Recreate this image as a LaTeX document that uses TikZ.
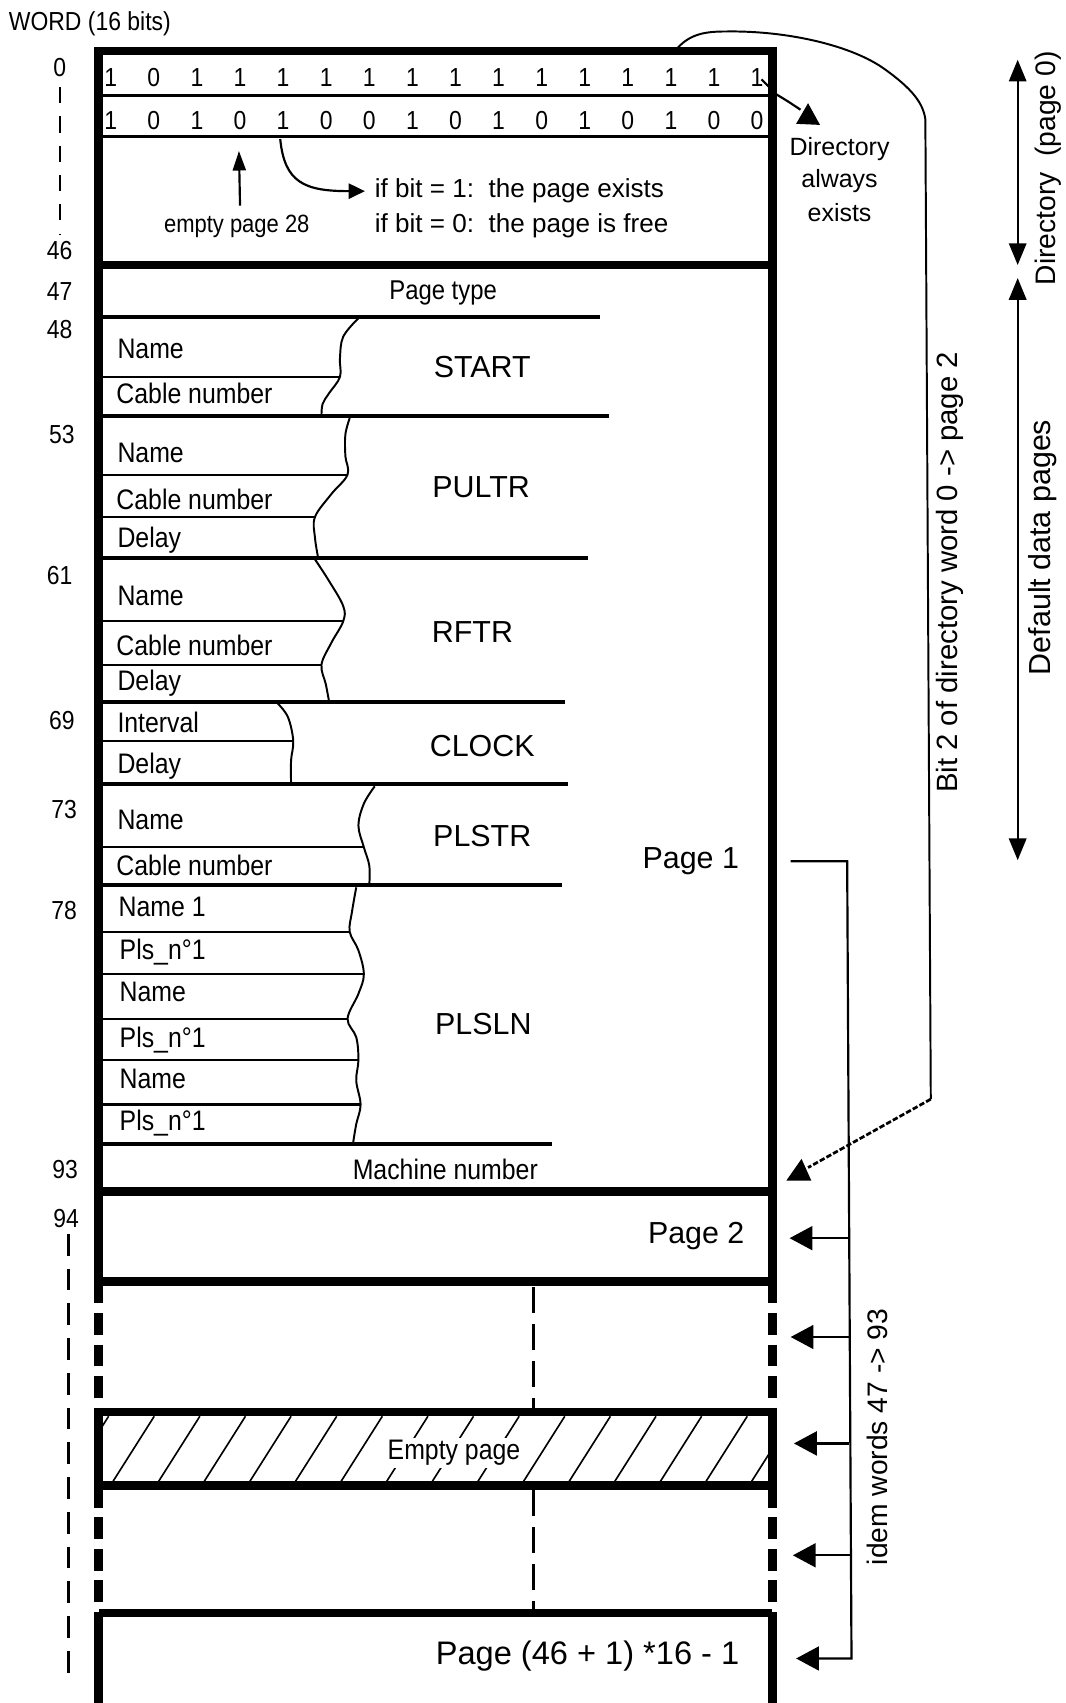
\documentclass[tikz,border=0pt]{standalone}
\usepackage{fontspec}
\setmainfont{Liberation Sans}
\newfontfamily\narrowf[FakeStretch=0.88]{Liberation Sans}
\usetikzlibrary{arrows.meta}
\begin{document}
\begin{tikzpicture}[x=1pt,y=-1pt,
  lab/.style={font=\narrowf\fontsize{26}{30}\selectfont, inner sep=0pt, anchor=west},
  num/.style={font=\narrowf\fontsize{24}{28}\selectfont, inner sep=0pt},
  bitt/.style={font=\narrowf\fontsize{24}{28}\selectfont, inner sep=0pt},
  sect/.style={font=\fontsize{28}{32}\selectfont, inner sep=0pt},
  note/.style={font=\fontsize{24}{28}\selectfont, inner sep=0pt},
  mid/.style={font=\narrowf\fontsize{26}{30}\selectfont, inner sep=0pt},
  rot/.style={font=\fontsize{27}{30}\selectfont, inner sep=0pt, rotate=90},
  frame/.style={line width=8pt},
  framedash/.style={line width=8pt, dash pattern=on 20pt off 9pt},
  sepline/.style={line width=3.5pt},
  thinline/.style={line width=2pt},
  wave/.style={line width=1.8pt},
  bigtip/.style={-{Triangle[length=21pt,width=22pt]}},
  dbltip/.style={{Triangle[length=20pt,width=16pt]}-{Triangle[length=20pt,width=16pt]}},
  axisdash/.style={line width=2pt, dash pattern=on 15pt off 12pt}
]
\useasboundingbox (0,0) rectangle (981,1568);
\fill[white] (0,0) rectangle (981,1568);

% ---------- header and word numbers ----------
\node[num, anchor=west] (word) at (8,22) {WORD (16 bits)};
\node[num] (n0) at (55,62) {0};
\draw[axisdash] (55,80) -- (55,216);
\node[num] (n46) at (55,231) {46};
\node[num] (n47) at (55,268) {47};
\node[num] (n48) at (55,303) {48};
\node[num] (n53) at (57,400) {53};
\node[num] (n61) at (55,530) {61};
\node[num] (n69) at (57,663) {69};
\node[num] (n73) at (59,745) {73};
\node[num] (n78) at (59,838) {78};
\node[num] (n93) at (60,1077) {93};
\node[num] (n94) at (61,1122) {94};
\draw[axisdash, dash pattern=on 20pt off 12pt] (63,1136) -- (63,1548);

% ---------- main frame ----------
\draw[frame] (87,47) -- (715,47);
\foreach \xx in {91,711}{
  \draw[frame] (\xx,43) -- (\xx,1180);
  \draw[framedash] (\xx,1180) -- (\xx,1300);
  \draw[frame] (\xx,1300) -- (\xx,1368);
  \draw[framedash] (\xx,1368) -- (\xx,1485);
  \draw[frame] (\xx,1485) -- (\xx,1575);
}
\foreach \yy in {244,1097,1180,1300,1368,1485}
  \draw[frame] (91,\yy) -- (711,\yy);

% ---------- directory bits ----------
\draw[thinline, line width=2.5pt] (91,88) -- (711,88);
\draw[thinline, line width=2.5pt] (91,126) -- (711,126);
\foreach \b [count=\i from 0] in {1,0,1,1,1,1,1,1,1,1,1,1,1,1,1,1}
  \node[bitt] (ra\i) at ({102+\i*39.67},71) {\b};
\foreach \b [count=\i from 0] in {1,0,1,0,1,0,0,1,0,1,0,1,0,1,0,0}
  \node[bitt] (rb\i) at ({102+\i*39.67},111) {\b};

\node[note, font=\narrowf\fontsize{23}{26}\selectfont] (emp) at (218,208) {empty page 28};
\draw[thinline, -{Triangle[length=18pt,width=12pt]}] (emp.north -| rb3) ++(0,-8) -- (220,139);
\node[note, anchor=west] (ifa) at (345,176) {if bit = 1:\ \ the page exists};
\node[note, anchor=west] (ifb) at (345,208) {if bit = 0:\ \ the page is free};
\draw[thinline, -{Triangle[length=15pt,width=14pt]}] (258,128) .. controls (262,168) and (280,176) .. ([xshift=-9pt]ifa.west);

% directory always exists
\node[note, font=\fontsize{23}{26}\selectfont] (dir1) at (773,137) {Directory};
\node[note, font=\fontsize{23}{26}\selectfont] (dir2) at (773,167) {always};
\node[note, font=\fontsize{23}{26}\selectfont] (dir3) at (773,196) {exists};
\draw[thinline] (ra15.east) ++(-2,2) -- (715,87) .. controls (725,93) .. (737,101);
\fill (744,95) -- (733,114) -- (755,115) -- cycle;

% ---------- page 1 ----------
\node[mid, font=\narrowf\fontsize{25}{28}\selectfont] (ptype) at (408,270) {Page type};
\draw[sepline] (91,292) -- (552,292);

% START
\node[lab] (s1) at (108,321) {Name};
\node[lab] (s2) at (107,362) {Cable number};
\draw[thinline] (91,347) -- (313,347);
\draw[wave] plot[smooth, tension=0.6] coordinates {(330,293) (316,310) (313,330) (313,347) (303,362) (297,372) (296,383)};
\draw[sepline] (91,383) -- (561,383);
\node[sect] (start) at (444,338) {START};

% PULTR
\node[lab] (p1) at (108,417) {Name};
\node[lab] (p2) at (107,460) {Cable number};
\node[lab] (p3) at (108,497) {Delay};
\draw[thinline] (91,437) -- (320,437);
\draw[thinline] (91,476) -- (290,476);
\draw[wave] plot[smooth, tension=0.6] coordinates {(322,385) (318,400) (318,420) (320,437) (305,455) (290,476) (290,495) (293,514)};
\draw[sepline] (91,514) -- (541,514);
\node[sect] (pultr) at (443,449) {PULTR};

% RFTR
\node[lab] (r1) at (108,549) {Name};
\node[lab] (r2) at (107,594) {Cable number};
\node[lab] (r3) at (108,629) {Delay};
\draw[thinline] (91,572) -- (316,572);
\draw[thinline] (91,612) -- (296,612);
\draw[wave] plot[smooth, tension=0.6] coordinates {(290,515) (303,535) (316,558) (316,572) (305,592) (296,612) (300,630) (303,646)};
\draw[sepline] (91,646) -- (520,646);
\node[sect] (rftr) at (435,582) {RFTR};

% CLOCK
\node[lab] (c1) at (108,665) {Interval};
\node[lab] (c2) at (108,705) {Delay};
\draw[thinline] (91,682) -- (270,682);
\draw[wave] plot[smooth, tension=0.6] coordinates {(255,647) (265,660) (270,682) (268,700) (268,722)};
\draw[sepline] (91,722) -- (523,722);
\node[sect] (clock) at (444,687) {CLOCK};

% PLSTR
\node[lab] (t1) at (108,755) {Name};
\node[lab] (t2) at (107,797) {Cable number};
\draw[thinline] (91,780) -- (335,780);
\draw[wave] plot[smooth, tension=0.6] coordinates {(345,724) (335,740) (330,760) (335,780) (340,797) (340,815)};
\draw[sepline] (91,815) -- (517,815);
\node[sect] (plstr) at (444,770) {PLSTR};

% PLSLN
\node[lab] (l1) at (109,835) {Name 1};
\node[lab] (l2) at (110,877) {Pls\_n°1};
\node[lab] (l3) at (110,913) {Name};
\node[lab] (l4) at (110,958) {Pls\_n°1};
\node[lab] (l5) at (110,993) {Name};
\node[lab] (l6) at (110,1034) {Pls\_n°1};
\draw[thinline] (91,858) -- (322,858);
\draw[thinline] (91,897) -- (335,897);
\draw[thinline] (91,938) -- (320,938);
\draw[thinline] (91,976) -- (330,976);
\draw[thinline] (91,1017) -- (332,1017);
\draw[wave] plot[smooth, tension=0.6] coordinates {(328,817) (324,840) (322,858) (330,875) (335,897) (330,915) (320,938) (328,955) (330,976) (328,995) (332,1017) (328,1035) (325,1053)};
\draw[sepline] (91,1053) -- (508,1053);
\node[sect] (plsln) at (445,943) {PLSLN};

\node[mid] (mach) at (410,1077) {Machine number};
\node[sect] (pg1) at (636,793) {Page 1};

% ---------- following pages ----------
\node[sect] (pg2) at (641,1138) {Page 2};
\draw[line width=3pt, dash pattern=on 24pt off 10pt] (491,1185) -- (491,1296);
\draw[line width=3pt, dash pattern=on 24pt off 10pt] (491,1372) -- (491,1481);
\begin{scope}
  \clip (95,1304) rectangle (707,1364);
  \foreach \k in {0,...,16}
    \draw[line width=1.5pt] ({62+\k*42},1364) -- ({100+\k*42},1304);
\end{scope}
\node[mid, fill=white, inner sep=2pt] (empty) at (418,1338) {Empty page};
\node[sect, font=\fontsize{30}{34}\selectfont] (pgl) at (541,1525) {Page (46 + 1) *16 - 1};

% ---------- right side connectors ----------
\coordinate (b1) at (728,793);
\coordinate (b2) at (780,793);
\coordinate (b3) at (784,1527);
\draw[thinline, bigtip] (b1) -- (b2) -- (b3) -- (733,1527);
\draw[thinline, bigtip] (781,1140) -- (727,1140);
\draw[thinline, bigtip] (782,1231) -- (728,1231);
\draw[thinline, bigtip] (782,1329) -- (731,1329);
\draw[thinline, bigtip] (783,1432) -- (730,1432);
\node[rot, font=\fontsize{26}{30}\selectfont] (idem) at (808,1323) {idem words 47 -> 93};

\coordinate (c0) at (624,44);
\coordinate (c1) at (852,110);
\coordinate (c2) at (857,1012);
\draw[line width=1.8pt] (c0) .. controls (636,31) and (650,29) .. (668,29)
   .. controls (725,28) and (785,42) .. (815,64)
   .. controls (840,82) and (850,95) .. (c1) -- (c2);
\draw[line width=2.5pt, dash pattern=on 5pt off 2pt] (c2) -- (744,1075);
\fill (724,1087) -- (738,1067) -- (747,1087) -- cycle;
\node[rot] (bit2) at (875,527) {Bit 2 of directory word 0 -> page 2};

\draw[thinline, dbltip] (937,55) -- (937,244);
\draw[thinline, dbltip] (937,256) -- (937,792);
\node[rot, font=\fontsize{26}{30}\selectfont] (dirp) at (965,155) {Directory\ \ (page 0)};
\node[rot, font=\fontsize{28}{32}\selectfont] (ddp) at (960,504) {Default data pages};
\end{tikzpicture}
\end{document}
